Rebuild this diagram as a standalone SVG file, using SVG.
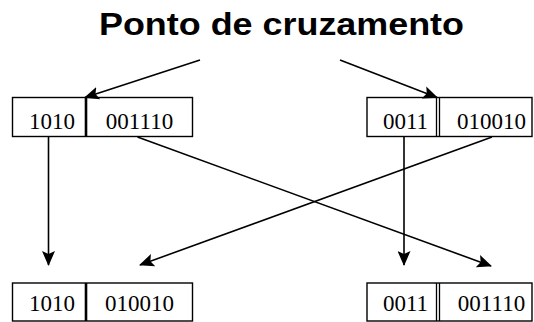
<svg xmlns="http://www.w3.org/2000/svg" width="534" height="322" viewBox="0 0 534 322">
<defs>
<marker id="ah" markerUnits="userSpaceOnUse" markerWidth="15" markerHeight="13" viewBox="0 0 15 13" refX="14" refY="6.5" orient="auto">
<path d="M0,0 L15,6.5 L0,13 L3,6.5 Z" fill="#000"/>
</marker>
<style>
.box{fill:#fff;stroke:#000;stroke-width:1.4}
.dv{stroke:#000;stroke-width:1.3}
.dvt{stroke:#000;stroke-width:2.6}
.num{font-family:"Liberation Serif",serif;font-size:23px;fill:#000;text-anchor:middle}
.ln{stroke:#000;stroke-width:1.6;fill:none;marker-end:url(#ah)}
.title{font-family:"Liberation Sans",Arial,sans-serif;font-weight:bold;font-size:31px;fill:#000}
</style>
</defs>
<rect width="534" height="322" fill="#fff"/>
<text class="title" x="99" y="35" textLength="365" lengthAdjust="spacingAndGlyphs">Ponto de cruzamento</text>
<g id="parent1">
<rect class="box" x="12.5" y="97.5" width="180" height="39"/>
<line class="dvt" x1="86" y1="97.5" x2="86" y2="136.5"/>
<text class="num" x="52" y="129">1010</text>
<text class="num" x="139.5" y="129">001110</text>
</g>
<g id="parent2">
<rect class="box" x="367" y="97.5" width="165" height="39"/>
<line class="dv" x1="436.5" y1="97.5" x2="436.5" y2="136.5"/>
<line class="dv" x1="439.5" y1="97.5" x2="439.5" y2="136.5"/>
<text class="num" x="405.5" y="129">0011</text>
<text class="num" x="491.5" y="129">010010</text>
</g>
<g id="child1">
<rect class="box" x="12.5" y="283" width="180" height="38"/>
<line class="dvt" x1="86" y1="283" x2="86" y2="321"/>
<text class="num" x="52" y="311">1010</text>
<text class="num" x="139.5" y="311">010010</text>
</g>
<g id="child2">
<rect class="box" x="367" y="283" width="165" height="38"/>
<line class="dv" x1="436.5" y1="283" x2="436.5" y2="321"/>
<line class="dv" x1="439.5" y1="283" x2="439.5" y2="321"/>
<text class="num" x="405.5" y="311">0011</text>
<text class="num" x="491.5" y="311">001110</text>
</g>
<g id="connectors">
<line class="ln" x1="200" y1="60" x2="85" y2="97.5"/>
<line class="ln" x1="340" y1="60" x2="437" y2="97.5"/>
<line class="ln" x1="48.5" y1="137" x2="48.5" y2="265"/>
<line class="ln" x1="404" y1="137" x2="404" y2="265"/>
<line class="ln" x1="137.5" y1="137" x2="491" y2="266"/>
<line class="ln" x1="492" y1="137" x2="140" y2="265"/>
</g>
</svg>
